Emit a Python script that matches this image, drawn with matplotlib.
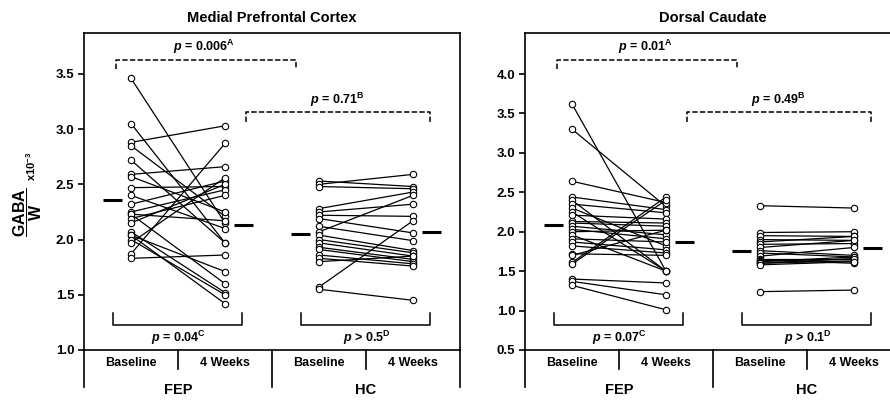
import matplotlib
matplotlib.use('Agg')
import matplotlib.pyplot as plt

plt.rcParams['font.family'] = ['Liberation Sans', 'DejaVu Sans']
plt.rcParams['font.weight'] = 'bold'
plt.rcParams['mathtext.fontset'] = 'custom'
plt.rcParams['mathtext.rm'] = 'Liberation Sans'
plt.rcParams['mathtext.it'] = 'Liberation Sans:bold:italic'
plt.rcParams['mathtext.bf'] = 'Liberation Sans:bold'

# ---------------- data ----------------
groups = ['FEP', 'HC']
timepoints = ['Baseline', '4 Weeks']

# Medial prefrontal cortex
mpfc_fep_base = [3.46, 3.05, 2.88, 2.85, 2.72, 2.59, 2.57, 2.47, 2.40, 2.32, 2.25,
                 2.23, 2.23, 2.19, 2.15, 2.07, 2.04, 2.04, 2.00, 1.97, 1.87, 1.83]
mpfc_fep_4wk = [2.15, 1.97, 3.03, 2.21, 1.97, 2.66, 2.25, 2.48, 2.10, 2.53, 2.45,
                2.17, 1.60, 2.40, 2.50, 1.52, 1.42, 1.71, 1.50, 2.56, 2.87, 1.86]
mpfc_hc_base = [2.53, 2.50, 2.48, 2.28, 2.25, 2.22, 2.19, 2.12, 2.07, 2.04,
                2.00, 1.97, 1.93, 1.91, 1.86, 1.83, 1.80, 1.57, 1.55]
mpfc_hc_4wk = [2.48, 2.59, 2.46, 2.43, 2.32, 2.21, 2.06, 1.99, 2.40, 1.90,
               1.88, 1.85, 1.82, 1.80, 1.78, 1.76, 1.85, 2.17, 1.45]
mpfc_means = [2.36, 2.13, 2.05, 2.07]

# Dorsal caudate
dc_fep_base = [3.62, 3.30, 2.64, 2.44, 2.40, 2.35, 2.30, 2.25, 2.21, 2.13, 2.11, 2.07, 2.03,
               2.00, 1.96, 1.91, 1.87, 1.82, 1.72, 1.70, 1.61, 1.59, 1.40, 1.37, 1.32]
dc_fep_4wk = [1.50, 2.32, 2.37, 2.28, 1.50, 2.24, 1.82, 1.50, 2.16, 2.11, 2.07, 1.96, 1.91,
              2.02, 1.50, 1.87, 1.77, 1.73, 1.70, 2.02, 2.44, 2.40, 1.35, 1.20, 1.01]
dc_hc_base = [2.33, 1.99, 1.95, 1.90, 1.87, 1.84, 1.80, 1.76, 1.73, 1.69,
              1.66, 1.64, 1.63, 1.62, 1.60, 1.60, 1.58, 1.24]
dc_hc_4wk = [2.30, 2.00, 1.94, 1.89, 1.94, 1.85, 1.89, 1.70, 1.68, 1.80,
             1.66, 1.60, 1.65, 1.68, 1.63, 1.66, 1.62, 1.26]
dc_means = [2.08, 1.87, 1.76, 1.79]

panels = [
    dict(title='Medial Prefrontal Cortex', fep=(mpfc_fep_base, mpfc_fep_4wk),
         hc=(mpfc_hc_base, mpfc_hc_4wk), means=mpfc_means, ylim=(1.0, 3.87),
         yticks=[1.0, 1.5, 2.0, 2.5, 3.0, 3.5],
         p=['0.006', '0.71', '0.04', '> 0.5']),
    dict(title='Dorsal Caudate', fep=(dc_fep_base, dc_fep_4wk),
         hc=(dc_hc_base, dc_hc_4wk), means=dc_means, ylim=(0.5, 4.52),
         yticks=[0.5, 1.0, 1.5, 2.0, 2.5, 3.0, 3.5, 4.0],
         p=['0.01', '0.49', '0.07', '> 0.1']),
]

fig = plt.figure(figsize=(8.9, 4.03), dpi=100)
lefts = [84 / 890, 525 / 890]
W, H, B = 376 / 890, 317 / 403, 53 / 403


def bracket(ax, x0, x1, y, dy, style):
    ax.plot([x0, x0, x1, x1], [y + dy, y, y, y + dy], color='black', lw=1.1,
            ls=style, transform=ax.transAxes, clip_on=False)


def plabel(p, sup):
    if p.startswith('>'):
        return r'$p$ ' + p + r'$^{\mathrm{' + sup + '}}$'
    return r'$p$ = ' + p + r'$^{\mathrm{' + sup + '}}$'


for left, pan in zip(lefts, panels):
    ax = fig.add_axes([left, B, W, H])
    ax.set_xlim(0.5, 4.5)
    ax.set_ylim(*pan['ylim'])
    ax.set_yticks(pan['yticks'])
    ax.set_yticklabels(['%.1f' % t for t in pan['yticks']], fontsize=9.5, fontweight='bold')
    ax.tick_params(axis='y', direction='out', length=4, width=1.2, pad=3)
    ax.set_xticks([])
    for s in ax.spines.values():
        s.set_linewidth(1.2)

    # paired lines
    for xs, (b, w) in zip([(1, 2), (3, 4)], [pan['fep'], pan['hc']]):
        for vb, vw in zip(b, w):
            ax.plot(xs, [vb, vw], color='black', lw=0.9, zorder=2)
        ax.plot([xs[0]] * len(b), b, 'o', ms=4.6, mfc='white', mec='black', mew=0.8, zorder=3)
        ax.plot([xs[1]] * len(w), w, 'o', ms=4.6, mfc='white', mec='black', mew=0.8, zorder=3)

    # group means
    for i, m in enumerate(pan['means']):
        x = i + 1
        if i % 2 == 0:
            ax.plot([x - 0.3, x - 0.1], [m, m], color='black', lw=2.2, solid_capstyle='butt')
        else:
            ax.plot([x + 0.1, x + 0.3], [m, m], color='black', lw=2.2, solid_capstyle='butt')

    # comparison brackets
    bracket(ax, 0.085, 0.565, 0.915, -0.03, (0, (3.5, 1.5)))
    ax.text(0.32, 0.955, plabel(pan['p'][0], 'A'), transform=ax.transAxes,
            ha='center', va='center', fontsize=9, fontweight='bold')
    bracket(ax, 0.432, 0.92, 0.751, -0.032, (0, (3.5, 1.5)))
    ax.text(0.675, 0.788, plabel(pan['p'][1], 'B'), transform=ax.transAxes,
            ha='center', va='center', fontsize=9, fontweight='bold')
    bracket(ax, 0.077, 0.42, 0.079, 0.037, '-')
    ax.text(0.25, 0.038, plabel(pan['p'][2], 'C'), transform=ax.transAxes,
            ha='center', va='center', fontsize=9, fontweight='bold')
    bracket(ax, 0.578, 0.921, 0.079, 0.037, '-')
    ax.text(0.752, 0.038, plabel(pan['p'][3], 'D'), transform=ax.transAxes,
            ha='center', va='center', fontsize=9, fontweight='bold')

    # category row below the axis
    row_b, short_b = -0.117, -0.06
    for xf, yb in [(0, row_b), (0.25, short_b), (0.5, row_b), (0.75, short_b), (1, row_b)]:
        ax.plot([xf, xf], [0, yb], color='black', lw=1.2, transform=ax.transAxes, clip_on=False)
    for i, xf in enumerate([0.125, 0.375, 0.625, 0.875]):
        ax.text(xf, -0.041, timepoints[i % 2], transform=ax.transAxes, ha='center',
                va='center', fontsize=9, fontweight='bold')
    for g, xf in zip(groups, [0.25, 0.75]):
        ax.text(xf, -0.127, g, transform=ax.transAxes, ha='center', va='center',
                fontsize=10.5, fontweight='bold')

    ax.set_title(pan['title'], fontsize=10.5, fontweight='bold', pad=8)

# y label: GABA / W  x10^-3
fig.text(28 / 890, 1 - 212 / 403, r'$\dfrac{\mathbf{GABA}}{\mathbf{W}}$', rotation=90,
         ha='center', va='center', fontsize=11.5)
fig.text(31 / 890, 1 - 166 / 403, r'x10$^{-3}$', rotation=90, ha='center', va='center',
         fontsize=8, fontweight='bold')

fig.savefig('out.png', dpi=100)
